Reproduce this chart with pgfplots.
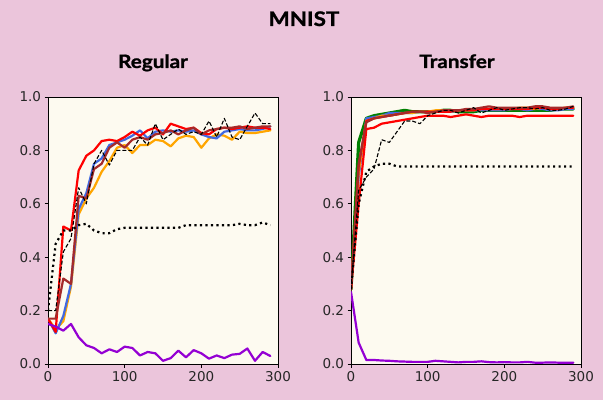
\documentclass[border=0pt]{standalone}
\usepackage{pgfplots}
\pgfplotsset{compat=1.18}
\usepackage{pgfplotstable}
\usepackage{fontspec}
\setmainfont{DejaVu Sans}
\newfontfamily\titlefont[FakeStretch=1.12,FakeBold=1.2]{Lato}
\definecolor{pinkbg}{RGB}{235,197,219}
\definecolor{creambg}{RGB}{253,250,240}
\definecolor{cred}{RGB}{255,0,0}
\definecolor{cblue}{RGB}{65,105,225}
\definecolor{corange}{RGB}{255,165,0}
\definecolor{cbrown}{RGB}{165,42,42}
\definecolor{cgreen}{RGB}{0,128,0}
\definecolor{cpurple}{RGB}{148,0,211}
\definecolor{tickgray}{RGB}{38,38,38}

\pgfplotstableread{
x red blue orange brown dashed dotted purple
0 .17 .17 .17 .17 .20 .20 .15
10 .12 .115 .13 .17 .20 .45 .14
20 .515 .18 .16 .32 .42 .50 .125
30 .50 .30 .29 .30 .47 .50 .15
40 .725 .58 .56 .63 .66 .52 .10
50 .78 .64 .62 .62 .60 .525 .07
60 .80 .75 .66 .73 .75 .50 .06
70 .835 .77 .72 .75 .80 .49 .04
80 .84 .82 .76 .81 .745 .49 .055
90 .835 .83 .81 .83 .80 .505 .045
100 .85 .84 .82 .81 .80 .51 .065
110 .87 .855 .79 .84 .80 .51 .06
120 .855 .875 .82 .85 .85 .51 .032
130 .875 .845 .82 .84 .82 .51 .045
140 .885 .87 .84 .86 .90 .51 .04
150 .86 .875 .835 .865 .84 .51 .012
160 .90 .87 .815 .875 .86 .51 .022
170 .89 .875 .845 .86 .88 .51 .05
180 .88 .87 .855 .875 .86 .52 .025
190 .885 .875 .85 .885 .87 .52 .052
200 .865 .86 .81 .86 .86 .52 .04
210 .86 .85 .845 .875 .91 .52 .02
220 .88 .845 .86 .88 .85 .52 .032
230 .885 .87 .855 .885 .92 .52 .022
240 .88 .875 .84 .885 .85 .52 .035
250 .885 .88 .87 .89 .84 .525 .038
260 .89 .875 .865 .88 .89 .52 .058
270 .885 .875 .865 .885 .94 .52 .012
280 .885 .88 .87 .89 .90 .53 .045
290 .88 .89 .875 .89 .90 .52 .03
}\regular

\pgfplotstableread{
x green blue orange redA redB brown dashed dotted purple
0 .28 .28 .28 .28 .28 .28 .28 .28 .27
10 .83 .70 .72 .74 .60 .75 .65 .60 .08
20 .92 .92 .91 .91 .88 .905 .70 .72 .015
30 .93 .925 .92 .92 .885 .92 .73 .74 .015
40 .935 .93 .93 .925 .90 .925 .84 .75 .013
50 .94 .94 .93 .93 .905 .93 .83 .75 .012
60 .945 .94 .935 .935 .91 .935 .87 .74 .01
70 .95 .94 .94 .94 .915 .94 .91 .74 .009
80 .945 .94 .94 .945 .92 .945 .91 .74 .008
90 .945 .945 .945 .945 .925 .945 .90 .74 .008
100 .945 .945 .945 .945 .93 .94 .93 .74 .008
110 .945 .945 .95 .945 .93 .945 .94 .74 .012
120 .95 .945 .95 .945 .93 .95 .95 .74 .01
130 .95 .945 .95 .945 .925 .95 .95 .74 .008
140 .945 .95 .95 .95 .93 .95 .94 .74 .006
150 .945 .95 .95 .95 .935 .955 .95 .74 .008
160 .945 .95 .95 .95 .93 .955 .96 .74 .008
170 .95 .95 .955 .955 .925 .96 .94 .74 .01
180 .95 .95 .955 .955 .93 .965 .95 .74 .007
190 .95 .95 .955 .955 .93 .96 .96 .74 .006
200 .95 .95 .955 .955 .93 .96 .95 .74 .007
210 .95 .955 .955 .955 .93 .96 .955 .74 .006
220 .95 .955 .96 .955 .925 .96 .96 .74 .006
230 .95 .95 .96 .955 .93 .96 .96 .74 .008
240 .95 .955 .955 .96 .93 .965 .955 .74 .005
250 .95 .955 .96 .96 .93 .965 .96 .74 .005
260 .95 .95 .955 .955 .93 .96 .95 .74 .006
270 .955 .95 .955 .955 .93 .96 .95 .74 .005
280 .955 .955 .96 .96 .93 .96 .955 .74 .005
290 .955 .955 .96 .96 .93 .965 .965 .74 .005
}\transfer

\pgfplotsset{
  myaxis/.style={
    scale only axis,
    width=230bp, height=267bp,
    anchor=south west,
    xmin=0, xmax=300, ymin=0, ymax=1,
    xtick={0,100,200,300},
    ytick={0,0.2,0.4,0.6,0.8,1.0},
    yticklabel style={/pgf/number format/.cd,fixed,fixed zerofill,precision=1},
    /pgf/number format/assume math mode=true,
    axis background/.style={fill=creambg},
    axis line style={black, line width=0.8bp},
    tick style={black, line width=0.8bp},
    tick align=outside,
    major tick length=3.5bp,
    xtick pos=bottom, ytick pos=left,
    ticklabel style={font=\fontsize{13.5bp}{15bp}\selectfont, text=tickgray},
    clip=true,
    every axis plot/.append style={line join=round, line cap=round},
  },
}

\begin{document}
\begin{tikzpicture}
\useasboundingbox (0,0) rectangle (603bp,400bp);
\fill[pinkbg] (0,0) rectangle (603bp,400bp);
\node[anchor=base, font=\titlefont\bfseries\fontsize{20bp}{24bp}\selectfont] at (304bp,374bp) {MNIST};
\node[anchor=base, font=\titlefont\bfseries\fontsize{18.5bp}{20bp}\selectfont] at (153bp,332bp) {Regular};
\node[anchor=base, font=\titlefont\bfseries\fontsize{18.5bp}{20bp}\selectfont] at (457bp,332bp) {Transfer};

\begin{axis}[myaxis, at={(48bp,36bp)}]
\addplot[corange, line width=2.2bp] table[x=x,y=orange] {\regular};
\addplot[cblue, line width=2.2bp] table[x=x,y=blue] {\regular};
\addplot[cred, line width=2.2bp] table[x=x,y=red] {\regular};
\addplot[cbrown, line width=2.2bp] table[x=x,y=brown] {\regular};
\addplot[black, line width=1.1bp, dash pattern=on 4bp off 2bp, line cap=butt] table[x=x,y=dashed] {\regular};
\addplot[black, line width=2.2bp, dash pattern=on 2.2bp off 3.3bp, line cap=butt] table[x=x,y=dotted] {\regular};
\addplot[cpurple, line width=2.2bp] table[x=x,y=purple] {\regular};
\end{axis}

\begin{axis}[myaxis, at={(351bp,36bp)}]
\addplot[cgreen, line width=3.2bp] table[x=x,y=green] {\transfer};
\addplot[cblue, line width=2.2bp] table[x=x,y=blue] {\transfer};
\addplot[corange, line width=2.2bp] table[x=x,y=orange] {\transfer};
\addplot[cred, line width=2.2bp] table[x=x,y=redA] {\transfer};
\addplot[cred, line width=2.2bp] table[x=x,y=redB] {\transfer};
\addplot[cbrown, line width=2.2bp] table[x=x,y=brown] {\transfer};
\addplot[black, line width=1.1bp, dash pattern=on 4bp off 2bp, line cap=butt] table[x=x,y=dashed] {\transfer};
\addplot[black, line width=2.2bp, dash pattern=on 2.2bp off 3.3bp, line cap=butt] table[x=x,y=dotted] {\transfer};
\addplot[cpurple, line width=2.2bp] table[x=x,y=purple] {\transfer};
\end{axis}
\end{tikzpicture}
\end{document}
